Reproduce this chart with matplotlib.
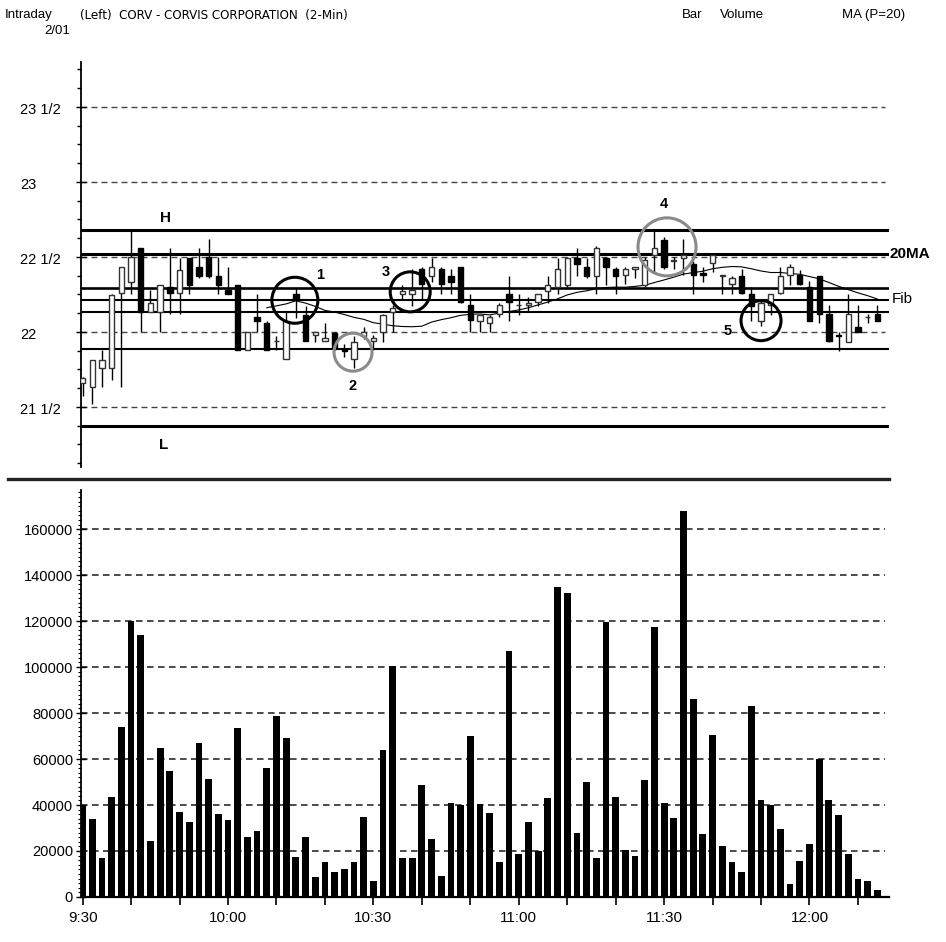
import numpy as np
import pandas as pd
import matplotlib
matplotlib.use('Agg')
from matplotlib import pyplot as plt
from matplotlib import font_manager
from matplotlib.lines import Line2D
from matplotlib.transforms import blended_transform_factory

plt.rcParams['font.family'] = ['Liberation Sans', 'DejaVu Sans']
has_condensed = any(f.name == 'DejaVu Sans' and f.stretch == 'condensed'
                    for f in font_manager.fontManager.ttflist)

# 2-minute bars, 9:30 .. 12:14
opens = [21.66, 21.63, 21.76, 21.76, 22.26, 22.33, 22.56, 22.13, 22.13, 22.30,
         22.26, 22.49, 22.43, 22.50, 22.37, 22.28, 22.31, 21.88, 22.10, 22.06,
         21.94, 21.82, 22.25, 22.11, 21.98, 21.94, 21.99, 21.88, 21.82, 21.97,
         21.94, 22.00, 22.13, 22.25, 22.25, 22.42, 22.37, 22.42, 22.37, 22.43,
         22.18, 22.07, 22.06, 22.12, 22.25, 22.18, 22.18, 22.20, 22.27, 22.30,
         22.31, 22.49, 22.43, 22.37, 22.49, 22.42, 22.38, 22.42, 22.31, 22.51,
         22.61, 22.47, 22.49, 22.45, 22.39, 22.46, 22.37, 22.32, 22.37, 22.25,
         22.07, 22.18, 22.26, 22.38, 22.38, 22.30, 22.37, 22.12, 21.98, 21.93,
         22.03, 22.10, 22.12]
highs = [21.70, 21.81, 21.88, 22.25, 22.43, 22.68, 22.56, 22.28, 22.31, 22.56,
         22.49, 22.49, 22.56, 22.62, 22.50, 22.43, 22.31, 22.00, 22.25, 22.07,
         21.97, 22.13, 22.29, 22.17, 22.00, 22.06, 22.00, 21.92, 21.97, 22.03,
         21.98, 22.12, 22.18, 22.31, 22.42, 22.43, 22.49, 22.43, 22.42, 22.43,
         22.25, 22.11, 22.11, 22.19, 22.37, 22.25, 22.23, 22.25, 22.37, 22.49,
         22.50, 22.56, 22.49, 22.57, 22.50, 22.43, 22.43, 22.43, 22.50, 22.68,
         22.63, 22.50, 22.62, 22.47, 22.43, 22.51, 22.38, 22.37, 22.42, 22.30,
         22.22, 22.25, 22.43, 22.45, 22.41, 22.34, 22.37, 22.18, 22.00, 22.25,
         22.18, 22.12, 22.18]
lows = [21.57, 21.52, 21.63, 21.68, 21.63, 22.25, 22.00, 22.13, 22.00, 22.12,
        22.12, 22.25, 22.36, 22.36, 22.25, 22.25, 21.88, 21.88, 22.00, 21.88,
        21.88, 21.82, 22.09, 21.94, 21.93, 21.94, 21.88, 21.83, 21.76, 21.95,
        21.88, 21.93, 22.00, 22.22, 22.17, 22.22, 22.33, 22.25, 22.25, 22.19,
        22.00, 22.00, 22.00, 22.10, 22.07, 22.11, 22.13, 22.17, 22.19, 22.25,
        22.30, 22.37, 22.36, 22.25, 22.31, 22.25, 22.32, 22.36, 22.30, 22.39,
        22.42, 22.42, 22.38, 22.25, 22.33, 22.40, 22.25, 22.25, 22.25, 22.07,
        22.04, 22.11, 22.25, 22.31, 22.31, 22.07, 22.06, 21.93, 21.87, 21.93,
        22.00, 22.06, 22.07]
closes = [21.69, 21.81, 21.81, 22.245, 22.43, 22.50, 22.13, 22.19, 22.31, 22.26,
          22.41, 22.31, 22.37, 22.37, 22.31, 22.25, 21.88, 22.00, 22.07, 21.88,
          21.94, 22.07, 22.22, 21.94, 22.00, 21.96, 21.90, 21.87, 21.93, 22.00,
          21.96, 22.11, 22.16, 22.27, 22.28, 22.32, 22.43, 22.32, 22.33, 22.20,
          22.08, 22.11, 22.10, 22.18, 22.20, 22.18, 22.19, 22.25, 22.31, 22.42,
          22.49, 22.45, 22.37, 22.56, 22.43, 22.37, 22.42, 22.43, 22.48, 22.56,
          22.43, 22.48, 22.51, 22.38, 22.38, 22.51, 22.38, 22.36, 22.26, 22.17,
          22.19, 22.25, 22.37, 22.43, 22.32, 22.07, 22.12, 21.94, 21.97, 22.12,
          22.00, 22.10, 22.07]
volumes = [40000, 34000, 17000, 43500, 74000, 120000, 114000, 24500, 65000, 55000,
           37000, 32500, 67000, 51500, 36000, 33500, 73500, 26000, 28500, 56000,
           78500, 69000, 17500, 26000, 8500, 15000, 11000, 12000, 15000, 35000,
           7000, 64000, 100500, 17000, 17000, 48500, 25000, 9000, 41000, 40000,
           70000, 40500, 36500, 15000, 107000, 18500, 32500, 20000, 43000, 135000,
           132000, 28000, 50000, 17000, 119500, 43500, 20300, 18000, 51000, 117500,
           41000, 34500, 168000, 86000, 27500, 70500, 22000, 15000, 11000, 83000,
           42000, 40000, 29500, 5500, 15500, 23000, 60000, 42000, 35500, 18500,
           8000, 7000, 3000]

# horizontal levels drawn on the price panel
level_high = 22.68
level_ma = 22.52
fib_levels = [22.29, 22.21, 22.13, 21.885]
level_low = 21.373

price_ticks = [21.5, 22.0, 22.5, 23.0, 23.5]
price_labels = ['21 1/2', '22', '22 1/2', '23', '23 1/2']
vol_ticks = [0, 20000, 40000, 60000, 80000, 100000, 120000, 140000, 160000]

# circled setups: (label, bar, price, circle px, colour, label bar, label price)
setups = [('1', 21.9, 22.211, 46, 'black', 24.5, 22.38),
          ('2', 27.9, 21.865, 38, '#8a8a8a', 27.9, 21.64),
          ('3', 33.8, 22.267, 40, 'black', 31.3, 22.40),
          ('4', 60.3, 22.567, 58, '#8a8a8a', 60.0, 22.85),
          ('5', 70.0, 22.075, 40, 'black', 66.6, 22.005)]

n = len(closes)
x = np.arange(n)
minutes = 9 * 60 + 30 + 2 * x
times = ['%d:%02d' % (m // 60, m % 60) for m in minutes]
ma20 = pd.Series(closes).rolling(20).mean()

fig = plt.figure(figsize=(9.46, 9.42), dpi=100)
axp = fig.add_axes([0.0853, 0.504, 0.8544, 0.430])
axv = fig.add_axes([0.0853, 0.0478, 0.8544, 0.432])
xlim = (-0.2, 83.2)

# ---- price panel
axp.set_xlim(xlim)
axp.set_ylim(21.098, 23.798)
for s in ['top', 'right', 'bottom']:
    axp.spines[s].set_visible(False)
axp.spines['left'].set_linewidth(1.3)
axp.set_xticks([])
axp.set_yticks(price_ticks)
axp.set_yticklabels([])
axp.set_yticks(np.arange(21.125, 23.8, 0.125), minor=True)
axp.tick_params(axis='y', which='major', direction='inout', length=7, width=1)
axp.tick_params(axis='y', which='minor', direction='out', length=3, width=1)
lab_tr = blended_transform_factory(fig.transFigure, axp.transData)
for t, lab in zip(price_ticks, price_labels):
    axp.text(20 / 946, t - 0.02, lab, transform=lab_tr, ha='left', va='center',
             fontsize=10.5)

axp.hlines(price_ticks, xlim[0], 82.8, colors='#444444', linewidth=1.0,
           linestyles=(0, (4.3, 2.9)), zorder=1)
axp.axhline(level_high, color='black', lw=2.2, zorder=2)
axp.axhline(level_ma, color='black', lw=2.2, zorder=2)
for i, lv in enumerate(fib_levels):
    axp.axhline(lv, color='black', lw=1.9 if i == 0 else 1.5, zorder=2)
axp.axhline(level_low, color='black', lw=2.2, zorder=2)

axp.plot(x, ma20, color='black', lw=0.8, zorder=3)

# candles
up = np.array(closes) >= np.array(opens)
axp.vlines(x, lows, highs, color='black', lw=1.0, zorder=4)
body_lo = np.minimum(opens, closes)
body_h = np.abs(np.array(closes) - np.array(opens))
axp.bar(x[up], body_h[up], bottom=body_lo[up], width=0.55, color='white',
        edgecolor='#333333', linewidth=1.0, zorder=5)
axp.bar(x[~up], body_h[~up], bottom=body_lo[~up], width=0.55, color='black',
        edgecolor='black', linewidth=1.0, zorder=5)

for lab, cx, cy, diam, col, lx, ly in setups:
    axp.scatter([cx], [cy], s=(diam * 0.72) ** 2, facecolors='none',
                edgecolors=col, linewidths=2.2, zorder=6)
    axp.text(lx, ly, lab, ha='center', va='center', fontsize=10.5,
             fontweight='bold', zorder=7)

axp.text(8.6, 22.757, 'H', ha='center', va='center', fontsize=11, fontweight='bold')
axp.text(8.4, 21.245, 'L', ha='center', va='center', fontsize=11, fontweight='bold')
axp.text(83.3, level_ma, '20MA', ha='left', va='center', fontsize=11,
         fontweight='bold', clip_on=False)
axp.text(83.5, 22.218, 'Fib', ha='left', va='center', fontsize=11, clip_on=False)

# ---- volume panel
axv.bar(x, volumes, width=0.7, color='black', zorder=3)
axv.set_xlim(xlim)
axv.set_ylim(0, 177000)
for s in ['top', 'right']:
    axv.spines[s].set_visible(False)
axv.spines['left'].set_linewidth(1.3)
axv.spines['bottom'].set_linewidth(1.6)
axv.set_yticks(vol_ticks)
axv.set_yticklabels([str(v) for v in vol_ticks], fontsize=10.5)
axv.set_yticks(np.arange(0, 177000, 2000), minor=True)
axv.tick_params(axis='y', which='major', direction='inout', length=7, width=1, pad=2)
axv.tick_params(axis='y', which='minor', direction='out', length=2, width=0.8)
axv.hlines(vol_ticks[1:], xlim[0], 82.8, colors='#1a1a1a', linewidth=1.1,
           linestyles=(0, (4.3, 2.9)), zorder=1)

axv.set_xticks(x[::5])
axv.set_xticklabels([t if i % 15 == 0 else '' for i, t in zip(x[::5], times[::5])],
                    fontsize=11)
axv.tick_params(axis='x', direction='out', length=6, width=1.2, pad=4)

# separator between panels
fig.add_artist(Line2D([8 / 946, 889 / 946], [1 - 479 / 942] * 2, color='#222222',
                      lw=2.4, transform=fig.transFigure))

# header
title_kw = dict(fontsize=9.5, va='center')
if has_condensed:
    title_kw = dict(fontsize=9.5, va='center', family='DejaVu Sans',
                    fontstretch='condensed')
else:
    title_kw = dict(fontsize=8.5, va='center')
fig.text(5 / 946, 1 - 15 / 942, 'Intraday', fontsize=9.5, va='center')
fig.text(44 / 946, 1 - 31 / 942, '2/01', fontsize=9.5, va='center')
fig.text(80 / 946, 1 - 15 / 942, '(Left)  CORV - CORVIS CORPORATION  (2-Min)',
         **title_kw)
fig.text(682 / 946, 1 - 15 / 942, 'Bar', fontsize=9.5, va='center')
fig.text(720 / 946, 1 - 15 / 942, 'Volume', fontsize=9.5, va='center')
fig.text(905 / 946, 1 - 15 / 942, 'MA (P=20)', fontsize=9.5, va='center', ha='right')

fig.savefig('out.png', dpi=100)
